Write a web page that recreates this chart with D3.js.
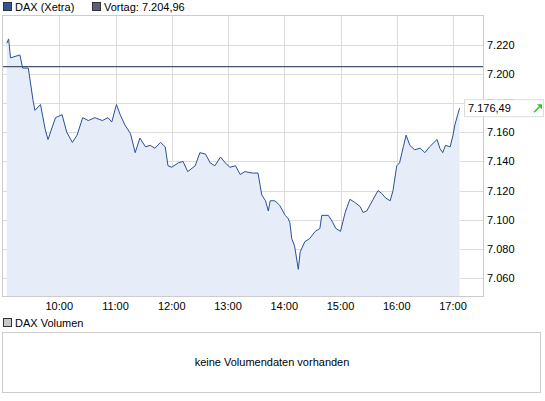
<html>
  <head>
    <style>
      body { margin: 0; background: #fff; }
      text { font-family: "Liberation Sans", Arial, sans-serif; font-size: 11px; }
    </style>
  </head>
  <body>
    <svg width="545" height="401"></svg>
    <script src="https://d3js.org/d3.v7.min.js"></script>
    <script>
      // minutes after 09:00 and DAX level
      var minutes = [4, 6, 8, 18, 21, 27, 32, 34, 40, 45, 48, 56, 63, 68, 74, 79, 85, 91, 98, 106, 112, 116, 121, 125, 130, 136, 141, 146, 152, 157, 162, 168, 173, 176, 180, 187, 192, 197, 205, 210, 216, 221, 226, 232, 237, 242, 248, 253, 258, 266, 272, 276, 280, 283, 285, 290, 295, 301, 304, 306, 308, 311, 315, 317, 322, 327, 333, 338, 340, 347, 351, 355, 360, 365, 370, 375, 381, 384, 388, 394, 400, 404, 408, 413, 416, 420, 423, 427, 430, 434, 439, 445, 450, 455, 463, 466, 469, 472, 477, 480, 482, 485, 487];
      var values  = [7221, 7224, 7211, 7213, 7204, 7204, 7182, 7175, 7179, 7162, 7155, 7170, 7172, 7160, 7153, 7158, 7170, 7168, 7170, 7168, 7170, 7167, 7179, 7172, 7165, 7159, 7146, 7156, 7150, 7151, 7149, 7153, 7150, 7137, 7136, 7139, 7140, 7133, 7137, 7146, 7145, 7139, 7137, 7143, 7139, 7136, 7137, 7131, 7133, 7132, 7132, 7117, 7113, 7106, 7113, 7113, 7110, 7103, 7101, 7098, 7087, 7082, 7066, 7078, 7085, 7087, 7092, 7094, 7103, 7103, 7099, 7094, 7092, 7105, 7114, 7112, 7109, 7105, 7106, 7113, 7120, 7118, 7115, 7113, 7120, 7137, 7139, 7150, 7158, 7151, 7148, 7149, 7146, 7150, 7155, 7149, 7146, 7151, 7150, 7158, 7165, 7172, 7176.49];
      var yTicks = [7060, 7080, 7100, 7120, 7140, 7160, 7180, 7200, 7220];
      var xTickHours = [10, 11, 12, 13, 14, 15, 16, 17];
      var vortag = 7204.96;
      var last = 7176.49;

      var svg = d3.select("svg");
      var day = function(h, m) { return new Date(2012, 0, 2, h, m || 0); };
      var fmt = function(v, d) {
        return d3.format(",." + d + "f")(v).replace(/,/g, "#").replace(".", ",").replace(/#/g, ".");
      };

      var L = 3, R = 483, T = 16, B = 296;
      var x = d3.scaleTime().domain([day(9, 0), day(17, 32)]).range([L, R]);
      var y = d3.scaleLinear().domain([7047.7, 7239.7]).range([B, T]);

      var data = minutes.map(function(m, i) { return { t: day(9, m), v: values[i] }; });

      // legend
      svg.append("rect").attr("x", 3.5).attr("y", 2.5).attr("width", 8).attr("height", 8)
          .attr("fill", "#2f5597").attr("stroke", "#333");
      svg.append("text").attr("x", 15).attr("y", 11).text("DAX (Xetra)");
      svg.append("rect").attr("x", 92.5).attr("y", 2.5).attr("width", 8).attr("height", 8)
          .attr("fill", "#5a6078").attr("stroke", "#333");
      svg.append("text").attr("x", 104).attr("y", 11).text("Vortag: " + fmt(vortag, 2));

      // grid
      var g = svg.append("g");
      g.selectAll(".hg").data(yTicks).enter().append("line")
          .attr("x1", L).attr("x2", R)
          .attr("y1", function(d) { return Math.round(y(d)) + 0.5; })
          .attr("y2", function(d) { return Math.round(y(d)) + 0.5; })
          .attr("stroke", "#dcdcdc");
      g.selectAll(".vg").data(xTickHours).enter().append("line")
          .attr("y1", T).attr("y2", B)
          .attr("x1", function(d) { return Math.round(x(day(d))) + 0.5; })
          .attr("x2", function(d) { return Math.round(x(day(d))) + 0.5; })
          .attr("stroke", "#dcdcdc");

      // area + line
      svg.append("path").datum(data)
          .attr("fill", "#e6ecf8")
          .attr("d", d3.area().x(function(d) { return x(d.t); }).y0(B).y1(function(d) { return y(d.v); }));
      svg.append("line").attr("x1", L).attr("x2", R)
          .attr("y1", y(vortag)).attr("y2", y(vortag))
          .attr("stroke", "#4a5272").attr("stroke-width", 1.2);
      svg.append("path").datum(data)
          .attr("fill", "none").attr("stroke", "#2b5096").attr("stroke-width", 1)
          .attr("d", d3.line().x(function(d) { return x(d.t); }).y(function(d) { return y(d.v); }));

      // frame
      svg.append("rect").attr("x", L - 0.5).attr("y", T - 0.5).attr("width", R - L + 1).attr("height", B - T + 1)
          .attr("fill", "none").attr("stroke", "#cccccc");

      // axes labels
      svg.selectAll(".yl").data(yTicks).enter().append("text")
          .attr("x", 487).attr("y", function(d) { return y(d) + 4; })
          .text(function(d) { return fmt(d, 0); });
      svg.selectAll(".xl").data(xTickHours).enter().append("text")
          .attr("x", function(d) { return x(day(d)); }).attr("y", 310)
          .attr("text-anchor", "middle")
          .text(function(d) { return d3.timeFormat("%H:%M")(day(d)); });

      // last value tag
      var ly = y(last);
      svg.append("rect").attr("x", 464.5).attr("y", ly - 8.5).attr("width", 79).attr("height", 17)
          .attr("fill", "#fff").attr("stroke", "#dddddd");
      svg.append("text").attr("x", 468).attr("y", ly + 4).text(fmt(last, 2));
      svg.append("path").attr("d", "M534," + (ly + 4) + "L541," + (ly - 3))
          .attr("stroke", "#22cc22").attr("stroke-width", 1.5);
      svg.append("path").attr("d", "M537," + (ly - 4) + "L542," + (ly - 4) + "L542," + (ly + 1) + "Z")
          .attr("fill", "#22cc22");

      // volume panel
      svg.append("rect").attr("x", 3.5).attr("y", 318.5).attr("width", 8).attr("height", 8)
          .attr("fill", "#c8c8c8").attr("stroke", "#333");
      svg.append("text").attr("x", 15).attr("y", 327).text("DAX Volumen");
      svg.append("rect").attr("x", 2.5).attr("y", 332.5).attr("width", 538).attr("height", 60)
          .attr("fill", "#fff").attr("stroke", "#cccccc");
      svg.append("text").attr("x", 272).attr("y", 366).attr("text-anchor", "middle")
          .text("keine Volumendaten vorhanden");
    </script>
  </body>
</html>
